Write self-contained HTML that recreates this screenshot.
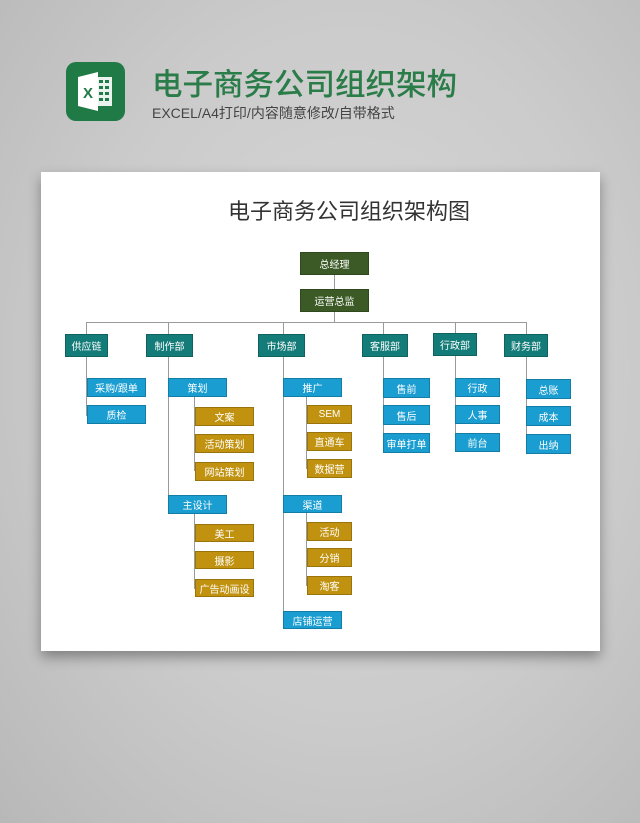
<!DOCTYPE html>
<html><head><meta charset="utf-8"><style>
*{margin:0;padding:0;box-sizing:border-box}
body{width:640px;height:823px;overflow:hidden;position:relative;font-family:"Liberation Sans","Noto Sans CJK SC",sans-serif;
background:radial-gradient(ellipse at 55% 45%,#d8d8d8 0%,#cbcbcb 55%,#b8b8b8 100%)}
.card{position:absolute;left:41px;top:172px;width:559px;height:479px;background:#fff;box-shadow:0 6px 12px rgba(0,0,0,.35)}
.b{position:absolute;color:#fff;font-size:10px;display:flex;align-items:center;justify-content:center;border:1px solid rgba(0,0,0,.2);white-space:nowrap}
.g{background:#3b5a25}.t{background:#137b78}.u{background:#1a9dd0}.y{background:#c0920f}
.l{position:absolute;background:#9a9a9a}
</style></head><body>
<div style="position:absolute;left:66px;top:62px;width:59px;height:59px;border-radius:10px;background:#1f7a45">
<svg width="59" height="59" viewBox="0 0 59 59">
<rect x="30" y="15" width="16" height="29" fill="#fff" opacity=".9"/>
<g fill="#1f7a45"><rect x="33" y="18" width="4" height="3"/><rect x="39" y="18" width="4" height="3"/><rect x="33" y="24" width="4" height="3"/><rect x="39" y="24" width="4" height="3"/><rect x="33" y="30" width="4" height="3"/><rect x="39" y="30" width="4" height="3"/><rect x="33" y="36" width="4" height="3"/><rect x="39" y="36" width="4" height="3"/></g>
<polygon points="12,15 32,10 32,49 12,44" fill="#fff"/>
<text x="22" y="36" font-size="15" font-weight="bold" fill="#1f7a45" text-anchor="middle" font-family="Liberation Sans">X</text>
</svg></div>
<div style="position:absolute;left:152px;top:60px;font-size:30.5px;color:#2a7c48;font-weight:500">电子商务公司组织架构</div>
<div style="position:absolute;left:152px;top:103px;font-size:14px;color:#444">EXCEL/A4打印/内容随意修改/自带格式</div>
<div class="card"></div>
<div style="position:absolute;left:228px;top:194px;font-size:22px;color:#333">电子商务公司组织架构图</div>

<div class="l" style="left:334px;top:275px;width:1px;height:47px"></div>
<div class="l" style="left:86px;top:322px;width:440px;height:1px"></div>
<div class="l" style="left:86px;top:322px;width:1px;height:94px"></div>
<div class="l" style="left:168px;top:322px;width:1px;height:184px"></div>
<div class="l" style="left:194px;top:397px;width:1px;height:74px"></div>
<div class="l" style="left:194px;top:514px;width:1px;height:75px"></div>
<div class="l" style="left:283px;top:322px;width:1px;height:299px"></div>
<div class="l" style="left:306px;top:397px;width:1px;height:72px"></div>
<div class="l" style="left:306px;top:513px;width:1px;height:73px"></div>
<div class="l" style="left:383px;top:322px;width:1px;height:122px"></div>
<div class="l" style="left:455px;top:322px;width:1px;height:121px"></div>
<div class="l" style="left:526px;top:322px;width:1px;height:122px"></div>

<div class="b g" style="left:300px;top:252px;width:69px;height:23px">总经理</div>
<div class="b g" style="left:300px;top:289px;width:69px;height:23px">运营总监</div>

<div class="b t" style="left:65px;top:334px;width:43px;height:23px">供应链</div>
<div class="b t" style="left:146px;top:334px;width:47px;height:23px">制作部</div>
<div class="b t" style="left:258px;top:334px;width:47px;height:23px">市场部</div>
<div class="b t" style="left:362px;top:334px;width:46px;height:23px">客服部</div>
<div class="b t" style="left:433px;top:333px;width:44px;height:23px">行政部</div>
<div class="b t" style="left:504px;top:334px;width:44px;height:23px">财务部</div>

<div class="b u" style="left:87px;top:378px;width:59px;height:19px">采购/跟单</div>
<div class="b u" style="left:87px;top:405px;width:59px;height:19px">质检</div>

<div class="b u" style="left:168px;top:378px;width:59px;height:19px">策划</div>
<div class="b y" style="left:195px;top:407px;width:59px;height:19px">文案</div>
<div class="b y" style="left:195px;top:434px;width:59px;height:19px">活动策划</div>
<div class="b y" style="left:195px;top:462px;width:59px;height:19px">网站策划</div>
<div class="b u" style="left:168px;top:495px;width:59px;height:19px">主设计</div>
<div class="b y" style="left:195px;top:524px;width:59px;height:18px">美工</div>
<div class="b y" style="left:195px;top:551px;width:59px;height:18px">摄影</div>
<div class="b y" style="left:195px;top:579px;width:59px;height:18px">广告动画设</div>

<div class="b u" style="left:283px;top:378px;width:59px;height:19px">推广</div>
<div class="b y" style="left:307px;top:405px;width:45px;height:19px">SEM</div>
<div class="b y" style="left:307px;top:432px;width:45px;height:19px">直通车</div>
<div class="b y" style="left:307px;top:459px;width:45px;height:19px">数据营</div>
<div class="b u" style="left:283px;top:495px;width:59px;height:18px">渠道</div>
<div class="b y" style="left:307px;top:522px;width:45px;height:19px">活动</div>
<div class="b y" style="left:307px;top:548px;width:45px;height:19px">分销</div>
<div class="b y" style="left:307px;top:576px;width:45px;height:19px">淘客</div>
<div class="b u" style="left:283px;top:611px;width:59px;height:18px">店铺运营</div>

<div class="b u" style="left:383px;top:378px;width:47px;height:20px">售前</div>
<div class="b u" style="left:383px;top:405px;width:47px;height:20px">售后</div>
<div class="b u" style="left:383px;top:433px;width:47px;height:20px">审单打单</div>

<div class="b u" style="left:455px;top:378px;width:45px;height:19px">行政</div>
<div class="b u" style="left:455px;top:405px;width:45px;height:19px">人事</div>
<div class="b u" style="left:455px;top:433px;width:45px;height:19px">前台</div>

<div class="b u" style="left:526px;top:379px;width:45px;height:20px">总账</div>
<div class="b u" style="left:526px;top:406px;width:45px;height:20px">成本</div>
<div class="b u" style="left:526px;top:434px;width:45px;height:20px">出纳</div>
</body></html>
